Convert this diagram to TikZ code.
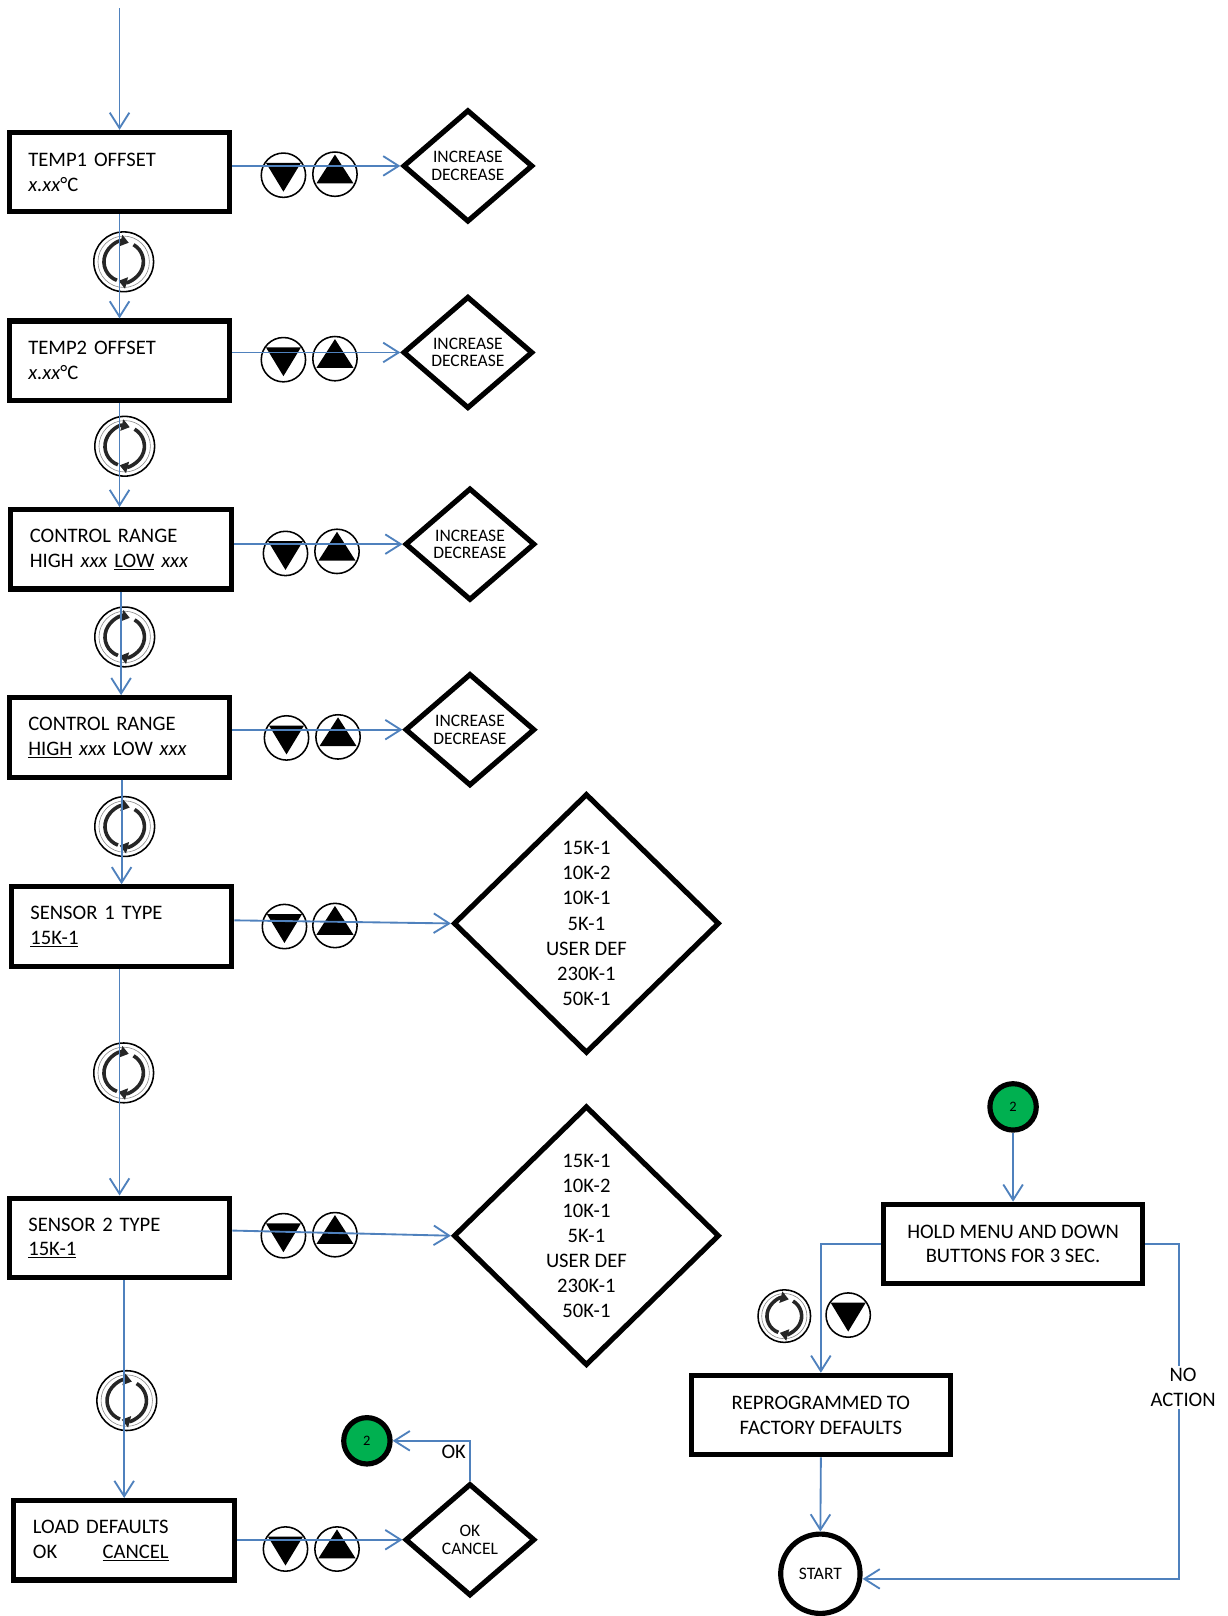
\documentclass[tikz,border=0pt]{standalone}
\usepackage{fontspec}
\setmainfont{Carlito}
\usepackage{tikz}
\usetikzlibrary{positioning,shapes.geometric,arrows.meta}
\definecolor{flowblue}{RGB}{79,129,189}
\definecolor{jumpgreen}{RGB}{0,176,80}

\begin{document}
\begin{tikzpicture}[x=1pt, y=-1pt,
font=\fontsize{20pt}{24pt}\selectfont,
menubox/.style={rectangle, draw=black, line width=5pt, minimum height=77pt, text width=177pt, inner xsep=18.5pt, align=left},
centerbox/.style={rectangle, draw=black, line width=5pt, minimum width=251pt, minimum height=77pt, align=center},
choicenode/.style={diamond, draw=black, line width=5pt, minimum width=126pt, minimum height=109pt, inner sep=0pt, align=center, font=\fontsize{17pt}{17pt}\selectfont},
listnode/.style={choicenode, minimum width=258pt, minimum height=252pt, font=\fontsize{20pt}{24.3pt}\selectfont},
downbutton/.style={circle, draw=black, line width=1.5pt, minimum size=43pt, inner sep=0pt, path picture={\fill ([shift={(-17pt,12pt)}]path picture bounding box.center) -- ++(34pt,0pt) -- ++(-17pt,-28pt) -- cycle;}},
upbutton/.style={circle, draw=black, line width=1.5pt, minimum size=43pt, inner sep=0pt, path picture={\fill ([shift={(-18pt,-9pt)}]path picture bounding box.center) -- ++(36pt,0pt) -- ++(-18pt,28pt) -- cycle;}},
turn/.style={line width=3.5pt, black!85, -{Triangle[length=8pt,width=11pt]}},
menubutton/.style={circle, draw=black, line width=1.5pt, minimum size=#1, inner sep=0pt, path picture={
  \draw[black!45, line width=0.6pt] (path picture bounding box.center) circle[radius=0.43*#1];
  \draw[turn] ([shift={(250:{0.33*#1})}]path picture bounding box.center) arc[start angle=250, end angle=75, radius=0.33*#1];
  \draw[turn] ([shift={(60:{0.33*#1})}]path picture bounding box.center) arc[start angle=60, end angle=-105, radius=0.33*#1];}},
menubutton/.default=58pt,
jumpnode/.style={circle, draw=black, line width=5pt, fill=jumpgreen, minimum size=45pt, inner sep=0pt, font=\fontsize{14pt}{14pt}\selectfont},
startnode/.style={circle, draw=black, line width=5pt, minimum size=77pt, inner sep=0pt, font=\fontsize{17pt}{17pt}\selectfont},
flow/.style={draw=flowblue, line width=1.8pt, -{Straight Barb[length=15pt,width=19pt]}},
]
\useasboundingbox (0,0) rectangle (1191,1568);

%Buttons
\node[downbutton] (dn1) at (275,170) {};
\node[upbutton]   (up1) at (325,169) {};
\node[downbutton] (dn2) at (275,349) {};
\node[upbutton]   (up2) at (325,348) {};
\node[downbutton] (dn3) at (277,537) {};
\node[upbutton]   (up3) at (327,535) {};
\node[downbutton] (dn4) at (278,716) {};
\node[upbutton]   (up4) at (328,715) {};
\node[downbutton] (dn5) at (276,899) {};
\node[upbutton]   (up5) at (325,898) {};
\node[downbutton] (dn6) at (275,1199) {};
\node[upbutton]   (up6) at (325,1198) {};
\node[downbutton] (dn7) at (277,1503) {};
\node[upbutton]   (up7) at (327,1503) {};
\node[downbutton] (dn8) at (823,1276) {};
\node[menubutton] (m1) at (120,254) {};
\node[menubutton] (m2) at (121,433) {};
\node[menubutton] (m3) at (121,618) {};
\node[menubutton] (m4) at (121,802) {};
\node[menubutton] (m5) at (120,1041) {};
\node[menubutton] (m6) at (123,1359) {};
\node[menubutton=51pt] (m7) at (761,1277) {};

%Nodes
\coordinate (entry) at (116,8);
\node[menubox] (b1) at (116,167) {TEMP1 OFFSET\\\textit{x.xx}°C};
\node[menubox] (b2) at (116,350) {TEMP2 OFFSET\\\textit{x.xx}°C};
\node[menubox] (b3) at (117.5,533) {CONTROL RANGE\\HIGH \textit{xxx} \underline{LOW} \textit{xxx}};
\node[menubox] (b4) at (116,715.5) {CONTROL RANGE\\\underline{HIGH} \textit{xxx} LOW \textit{xxx}};
\node[menubox] (b5) at (118,899) {SENSOR 1 TYPE\\\underline{15K-1}};
\node[menubox] (b6) at (116,1201) {SENSOR 2 TYPE\\\underline{15K-1}};
\node[menubox] (b7) at (120.5,1494.5) {LOAD DEFAULTS\\OK\hspace{44pt}\underline{CANCEL}};

\node[choicenode] (d1) at (454,161) {INCREASE\\DECREASE};
\node[choicenode] (d2) at (454,342) {INCREASE\\DECREASE};
\node[choicenode] (d3) at (456,528) {INCREASE\\DECREASE};
\node[choicenode] (d4) at (456,708) {INCREASE\\DECREASE};
\node[listnode]   (d5) at (569,896) {15K-1\\10K-2\\10K-1\\5K-1\\USER DEF\\230K-1\\50K-1};
\node[listnode]   (d6) at (569,1199) {15K-1\\10K-2\\10K-1\\5K-1\\USER DEF\\230K-1\\50K-1};
\node[choicenode] (d7) at (456,1494) {OK\\CANCEL};

\node[jumpnode]  (g1) at (356,1398) {2};
\node[jumpnode]  (g2) at (983,1074) {2};
\node[centerbox] (hold) at (983,1207) {HOLD MENU AND DOWN\\BUTTONS FOR 3 SEC.};
\node[centerbox] (repro) at (796.5,1373) {REPROGRAMMED TO\\FACTORY DEFAULTS};
\node[startnode] (start) at (796,1527) {START};

%Lines
\draw[flow] (entry) -- (b1.north);
\draw[flow] (b1.south) -- (b2.north);
\draw[flow] (b2.south) -- (b2.south |- b3.north);
\draw[flow] (b3.south) -- (b3.south |- b4.north);
\draw[flow] (b5.north |- b4.south) -- (b5.north);
\draw[flow] (b6.north |- b5.south) -- (b6.north);
\draw[flow] (b7.north |- b6.south) -- (b7.north);

\draw[flow] (b1.east |- d1.west) -- (d1.west);
\draw[flow] (b2.east |- d2.west) -- (d2.west);
\draw[flow] (b3.east |- d3.west) -- (d3.west);
\draw[flow] (b4.east |- d4.west) -- (d4.west);
\draw[flow] ([yshift=6pt]b5.east) -- (d5.west);
\draw[flow] ([yshift=7pt]b6.east) -- (d6.west);
\draw[flow] (b7.east |- d7.west) -- (d7.west);

\draw[flow] (d7.north) |- (g1.east) node[pos=0.5, below left, inner sep=3pt] {OK};
\draw[flow] (g2.south) -- (hold.north);
\draw[flow] (hold.west) -| (repro.north);
\draw[flow] (repro.south) -- (start.north);
\draw[flow] (hold.east) -- ++(33,0) |- ([yshift=-5pt]start.east) node[pos=0.214, xshift=4pt, fill=white, align=center, inner sep=2pt] {NO\\ACTION};
\end{tikzpicture}
\end{document}
